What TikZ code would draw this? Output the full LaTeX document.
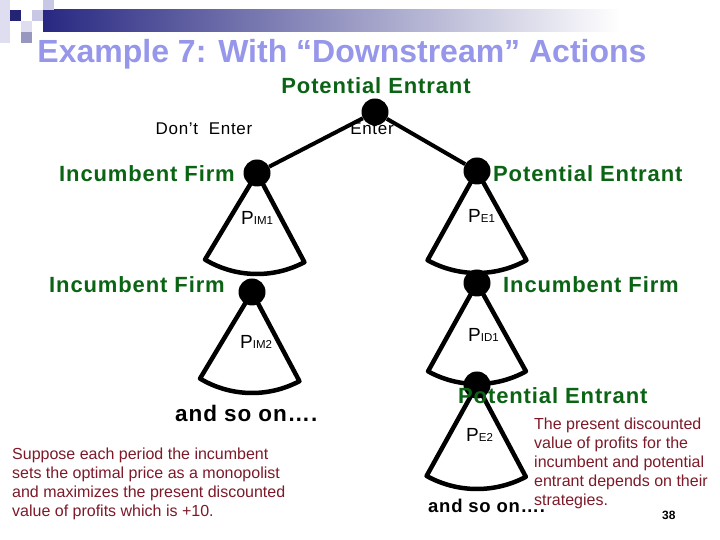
\documentclass[tikz,border=0pt]{standalone}
\usepackage{fontspec}
\setmainfont{Liberation Sans}
\newfontfamily\spaced[LetterSpace=4]{Liberation Sans}
\usetikzlibrary{positioning,%
                shadings}
\definecolor{titleblue}{RGB}{150,150,235}
\definecolor{playergreen}{RGB}{10,100,20}
\definecolor{notered}{RGB}{125,25,40}
\definecolor{barnavy}{RGB}{40,40,130}
\definecolor{sqlight}{RGB}{222,222,240}
\definecolor{sqmid}{RGB}{200,200,228}
\definecolor{sqgrey}{RGB}{150,150,190}
\tikzset{
  dot/.style={circle,fill=black,minimum size=27pt,inner sep=0pt},
  move/.style={line width=4pt},
  cone/.style={line width=4.5pt,line join=round},
  player/.style={font=\spaced\fontsize{22}{26}\selectfont\bfseries,text=playergreen,inner sep=0pt},
  action/.style={font=\spaced\fontsize{17}{20}\selectfont,inner sep=0pt,anchor=base},
  payoff/.style={font=\fontsize{19}{22}\selectfont,inner sep=0pt,anchor=base west},
  note/.style={font=\fontsize{16}{19.2}\selectfont,text=notered,align=left,inner sep=0pt,anchor=base west}
}
\newcommand{\pay}[1]{P{\fontsize{11.5}{13}\selectfont #1}}

\begin{document}
\begin{tikzpicture}[x=1pt,y=1pt]
\useasboundingbox (0,0) rectangle (720,540);
% header bar and squares
\shade[left color=barnavy,right color=white] (43,508) rectangle (620,530);
\fill[sqlight] (0,530) rectangle (10,540);
\fill[sqmid] (43,530) rectangle (54,540);
\fill[sqlight] (0,497) rectangle (10,530);
\fill[barnavy!90!black] (10,519) rectangle (21,530);
\fill[sqmid] (32,519) rectangle (43,530);
\fill[sqlight] (21,508) rectangle (32,519);
\fill[sqgrey] (21,497) rectangle (32,508);

\node[anchor=base,inner sep=0pt,text=titleblue,font=\fontsize{32}{38}\selectfont\bfseries] (title) at (342,477) {Example 7: With “Downstream” Actions};

\node[player,anchor=base] (pe0lab) at (376,446) {Potential Entrant};
\node[action] (dont) at (204,405) {Don’t\ \ Enter};
\node[action] (enter) at (372,405) {Enter};

\node[dot] (pe0) at (375,428) {};
\node[dot] (im1) at (257,367) {};
\node[dot] (pe1) at (477,369) {};
\node[dot] (im2) at (252,248) {};
\node[dot] (id1) at (477,257) {};
\node[dot] (pe2) at (477,155) {};

\draw[move] (pe0) -- (im1);
\draw[move] (pe0) -- (pe1);

\draw[cone] (im1.center) -- ++(239:101) arc[start angle=239,end angle=298,radius=101] -- cycle;
\draw[cone] (im2.center) -- ++(239:101) arc[start angle=239,end angle=298,radius=101] -- cycle;
\draw[cone] (pe1.center) -- ++(241:102) arc[start angle=241,end angle=299,radius=102] -- cycle;
\draw[cone] (id1.center) -- ++(241:101) arc[start angle=241,end angle=299,radius=101] -- cycle;
\draw[cone] (pe2.center) -- ++(241:104) arc[start angle=241,end angle=298,radius=104] -- cycle;

\node[player,anchor=base east] (im1lab) at (235,358) {Incumbent Firm};
\node[player,anchor=base west] (pe1lab) at (493,358) {Potential Entrant};
\node[player,anchor=base east] (im2lab) at (225,247) {Incumbent Firm};
\node[player,anchor=base west] (id1lab) at (503,247) {Incumbent Firm};
\node[player,anchor=base west] (pe2lab) at (458,136) {Potential Entrant};

\node[payoff] (pim1) at (241,315) {\pay{IM1}};
\node[payoff] (pim2) at (240,191) {\pay{IM2}};
\node[payoff] (pe1pay) at (468,317) {\pay{E1}};
\node[payoff] (pid1) at (468,198) {\pay{ID1}};
\node[payoff] (pe2pay) at (466,98) {\pay{E2}};

\node[anchor=base west,inner sep=0pt,font=\spaced\fontsize{22.5}{26}\selectfont\bfseries] (soonl) at (175,118) {and so on….};
\node[anchor=base west,inner sep=0pt,font=\spaced\fontsize{18.5}{22}\selectfont\bfseries] (soonr) at (428,27) {and so on….};

\node[note] (noteleft) at (12,23) {Suppose each period the incumbent\\sets the optimal price as a monopolist\\and maximizes the present discounted\\value of profits which is +10.};
\node[note] (noteright) at (534,34) {The present discounted\\value of profits for the\\incumbent and potential\\entrant depends on their\\strategies.};

\node[anchor=base west,inner sep=0pt,font=\fontsize{12}{14}\selectfont\bfseries] (page) at (662,20) {38};
\end{tikzpicture}
\end{document}
